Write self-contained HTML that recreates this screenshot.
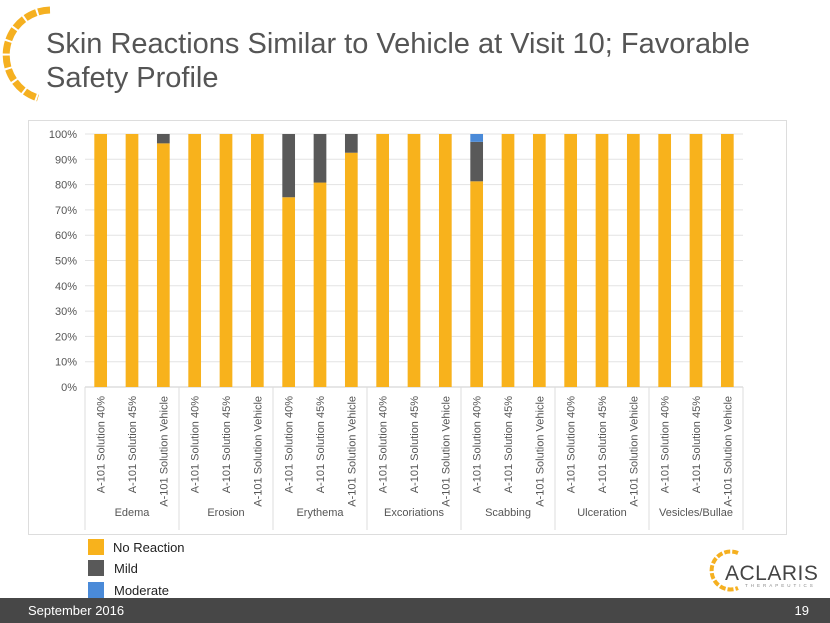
<!DOCTYPE html>
<html><head><meta charset="utf-8"><style>
body{margin:0;width:830px;height:623px;overflow:hidden;background:#fff;font-family:"Liberation Sans",sans-serif;position:relative}
</style></head><body>
<svg width="830" height="623" style="position:absolute;left:0;top:0">
  <g fill="none" stroke="#f5b020" stroke-width="7">
    <path d="M50 10 A45 45 0 0 0 38 98" stroke-dasharray="12 2"/>
  </g>
  <text x="46" y="53" font-size="29" fill="#555">Skin Reactions Similar to Vehicle at Visit 10; Favorable</text>
  <text x="46" y="87" font-size="29" fill="#555">Safety Profile</text>
  <rect x="28.5" y="120.5" width="758" height="414" fill="#fff" stroke="#ddd"/>
  <g id="chart"></g>
  <g>
    <rect x="88" y="539" width="16" height="16" fill="#f8b21c"/>
    <text x="113" y="552" font-size="13" fill="#222">No Reaction</text>
    <rect x="88" y="560" width="16" height="16" fill="#595959"/>
    <text x="114" y="573" font-size="13" fill="#222">Mild</text>
    <rect x="88" y="582" width="16" height="16" fill="#4a8ad8"/>
    <text x="114" y="595" font-size="13" fill="#222">Moderate</text>
  </g>
  <g>
    <path d="M738 553 A19 19 0 1 0 738 588" fill="none" stroke="#f5b020" stroke-width="4" stroke-dasharray="6 2"/>
    <text x="725" y="580" font-size="21" fill="#444" letter-spacing="0.5">ACLARIS</text>
    <text x="745" y="587" font-size="4.5" fill="#888" letter-spacing="3">THERAPEUTICS</text>
  </g>
  <rect x="0" y="598" width="830" height="25" fill="#474747"/>
  <text x="28" y="615" font-size="13" fill="#fff">September 2016</text>
  <text x="809" y="615" font-size="13" fill="#fff" text-anchor="end">19</text>
</svg>
<script>
const groups=["Edema","Erosion","Erythema","Excoriations","Scabbing","Ulceration","Vesicles/Bullae"];
const treatments=["A-101 Solution 40%","A-101 Solution 45%","A-101 Solution Vehicle"];
const noReaction=[100,100,96.3,100,100,100,75,80.8,92.6,100,100,100,81.3,100,100,100,100,100,100,100,100];
const mild=[0,0,3.7,0,0,0,25,19.2,7.4,0,0,0,15.6,0,0,0,0,0,0,0,0];
const moderate=[0,0,0,0,0,0,0,0,0,0,0,0,3.1,0,0,0,0,0,0,0,0];
const yTicks=[0,10,20,30,40,50,60,70,80,90,100];
const NS="http://www.w3.org/2000/svg";
const g=document.getElementById('chart');
const x0=85,gw=94,y0=387,y1=134;
const y=v=>y0-(y0-y1)*v/100;
const xc=i=>x0+gw*Math.floor(i/3)+gw/3*(i%3+0.5);
function mk(t,a){const e=document.createElementNS(NS,t);for(const k in a)e.setAttribute(k,a[k]);g.appendChild(e);return e;}
yTicks.forEach(t=>{
  const l=mk('line',{x1:x0,x2:x0+gw*groups.length,y1:y(t),y2:y(t),stroke:t===0?'#ccc':'#e3e3e3'});
  
  
  const tx=mk('text',{x:77,y:y(t)+4,'font-size':11,fill:'#555','text-anchor':'end'});
  tx.textContent=t+'%';
  
  
});
for(let k=0;k<=groups.length;k++){
  const l=mk('line',{x1:x0+gw*k,x2:x0+gw*k,y1:y0,y2:530,stroke:'#ddd'});
  
  
}
groups.forEach((n,k)=>{
  const t=mk('text',{x:x0+gw*k+gw/2,y:516,'font-size':11,fill:'#555','text-anchor':'middle'});
  t.textContent=n;
  
  
});
const bw=12.7;
noReaction.forEach((v,i)=>{
  const cx=xc(i);
  const segs=[[0,v,'#f8b21c','no-reaction'],[v,v+mild[i],'#595959','mild'],[v+mild[i],v+mild[i]+moderate[i],'#4a8ad8','moderate']];
  segs.forEach(s=>{ if(s[1]>s[0]){
    const r=mk('rect',{x:cx-bw/2,y:y(s[1]),width:bw,height:y(s[0])-y(s[1]),fill:s[2]});
    
    
  }});
  const t=mk('text',{x:0,y:0,'font-size':11,fill:'#555','text-anchor':'end',transform:`translate(${cx+4},396) rotate(-90)`});
  t.textContent=treatments[i%3];
  
  
});
</script>
</body></html>
